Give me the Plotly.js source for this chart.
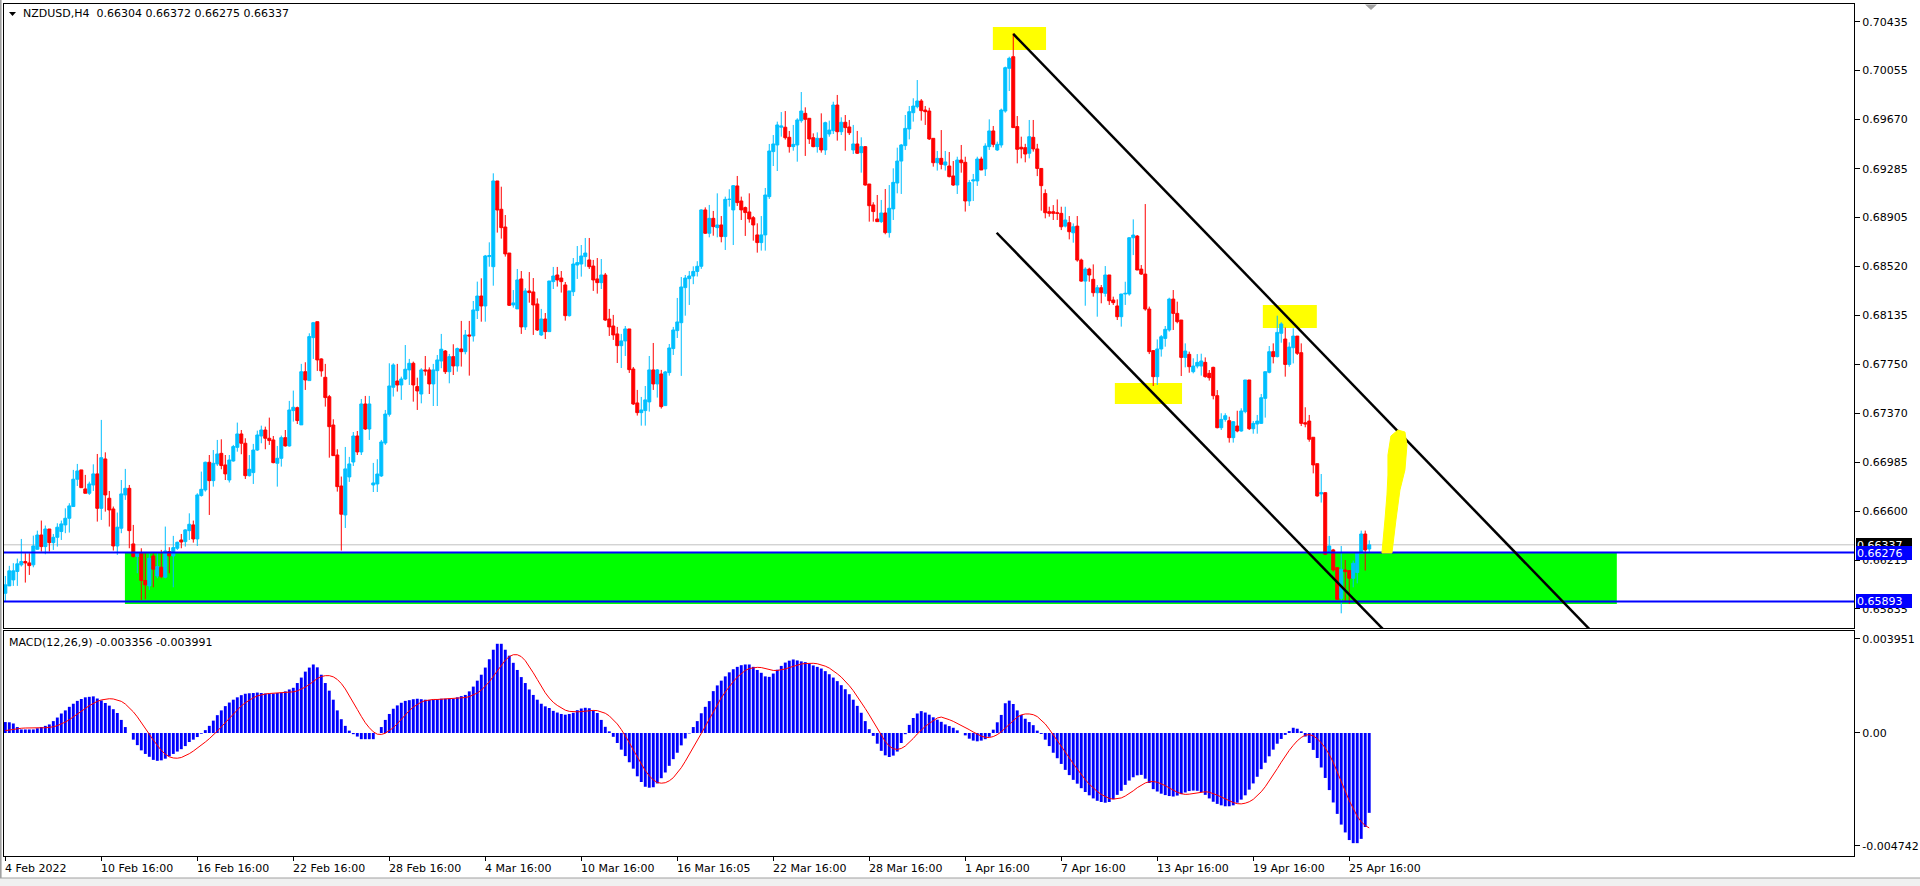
<!DOCTYPE html>
<html><head><meta charset="utf-8">
<script src="https://cdn.plot.ly/plotly-3.0.1.min.js"></script>
<style>html,body{margin:0;padding:0;background:#fff;overflow:hidden}#chart{width:1920px;height:886px}</style>
</head><body><div id="chart"></div>
<script>
const chartTitle = "NZDUSD,H4\u00a0 0.66304 0.66372 0.66275 0.66337";
const macdTitle = "MACD(12,26,9) -0.003356 -0.003991";

const barOpen = [
0.65957,0.66015,0.66062,0.66128,0.66180,0.66206,0.66195,0.66180,0.66302,0.66414,
0.66323,0.66461,0.66354,0.66396,0.66441,0.66493,0.66545,0.66637,0.66851,0.66924,
0.66775,0.66741,0.66806,0.66893,0.66623,0.67010,0.66702,0.66618,0.66328,0.66467,
0.66728,0.66780,0.66344,0.66245,0.66271,0.66057,0.66015,0.66250,0.66093,0.66161,
0.66083,0.66284,0.66250,0.66310,0.66375,0.66362,0.66448,0.66493,0.66383,0.66723,
0.66767,0.66984,0.66840,0.66971,0.67054,0.66963,0.66845,0.66994,0.67101,0.67206,
0.67133,0.66879,0.66903,0.67080,0.67190,0.67237,0.67172,0.67159,0.66976,0.67015,
0.67177,0.67112,0.67389,0.67412,0.67277,0.67694,0.67624,0.67961,0.68086,0.67794,
0.67650,0.67498,0.67276,0.67041,0.66798,0.66571,0.66869,0.66986,0.67190,0.67065,
0.67441,0.67245,0.66806,0.66814,0.66877,0.67135,0.67360,0.67572,0.67621,0.67590,
0.67637,0.67708,0.67760,0.67577,0.67519,0.67708,0.67708,0.67598,0.67702,0.67778,
0.67856,0.67694,0.67812,0.67739,0.67872,0.67851,0.67982,0.67974,0.68173,0.68287,
0.68209,0.68596,0.68517,0.69189,0.68967,0.68828,0.68624,0.68217,0.68186,0.68421,
0.68045,0.68327,0.68319,0.68225,0.67982,0.68107,0.68008,0.68400,0.68452,0.68428,
0.68374,0.68133,0.68321,0.68530,0.68538,0.68596,0.68570,0.68522,0.68421,0.68392,
0.68452,0.68107,0.68052,0.67990,0.67898,0.67935,0.68029,0.67715,0.67449,0.67373,
0.67389,0.67457,0.67708,0.67598,0.67676,0.67428,0.67687,0.67875,0.68016,0.68078,
0.68353,0.68423,0.68444,0.68480,0.68520,0.68962,0.68779,0.68896,0.68823,0.68844,
0.68753,0.69045,0.68962,0.69150,0.69032,0.68980,0.68946,0.68901,0.68766,0.68706,
0.68766,0.69066,0.69419,0.69471,0.69610,0.69610,0.69531,0.69458,0.69471,0.69662,
0.69719,0.69680,0.69528,0.69458,0.69523,0.69432,0.69557,0.69583,0.69784,0.69575,
0.69649,0.69612,0.69432,0.69479,0.69411,0.69458,0.69165,0.69001,0.68891,0.68870,
0.68938,0.68784,0.68970,0.69173,0.69345,0.69466,0.69596,0.69724,0.69771,0.69816,
0.69745,0.69737,0.69523,0.69332,0.69366,0.69314,0.69306,0.69228,0.69157,0.69353,
0.69335,0.69032,0.69189,0.69189,0.69361,0.69283,0.69458,0.69581,0.69432,0.69471,
0.69737,0.70072,0.70163,0.69615,0.69453,0.69450,0.69406,0.69531,0.69440,0.69287,
0.69091,0.68948,0.68948,0.68940,0.68935,0.68835,0.68862,0.68783,0.68835,0.68569,
0.68404,0.68498,0.68418,0.68313,0.68352,0.68308,0.68452,0.68256,0.68209,0.68125,
0.68303,0.68303,0.68744,0.68757,0.68498,0.68459,0.68185,0.67859,0.67655,0.67872,
0.67955,0.68021,0.68263,0.68151,0.68099,0.67806,0.67830,0.67694,0.67738,0.67738,
0.67767,0.67681,0.67728,0.67506,0.67255,0.67320,0.67310,0.67177,0.67268,0.67229,
0.67381,0.67629,0.67247,0.67284,0.67289,0.67485,0.67689,0.67851,0.67812,0.67995,
0.67950,0.67751,0.67882,0.67973,0.67843,0.67294,0.67307,0.67180,0.66973,0.66736,
0.66746,0.66276,0.66297,0.66158,0.65918,0.66140,0.66135,0.66075,0.66120,0.66270,
0.66422,0.66304];

const barHigh = [
0.66093,0.66172,0.66193,0.66229,0.66383,0.66271,0.66271,0.66409,0.66448,0.66527,
0.66488,0.66461,0.66422,0.66506,0.66527,0.66623,0.66663,0.66924,0.66971,0.66924,
0.66885,0.66832,0.66968,0.67049,0.67316,0.67062,0.66759,0.66637,0.66590,0.66845,
0.66932,0.66806,0.66493,0.66271,0.66310,0.66271,0.66271,0.66271,0.66271,0.66297,
0.66480,0.66318,0.66407,0.66362,0.66422,0.66459,0.66584,0.66527,0.66741,0.66911,
0.66989,0.67041,0.67080,0.67159,0.67164,0.67041,0.67041,0.67120,0.67295,0.67237,
0.67172,0.67041,0.67128,0.67232,0.67271,0.67263,0.67334,0.67190,0.67112,0.67193,
0.67237,0.67465,0.67546,0.67420,0.67755,0.67768,0.67995,0.68084,0.68086,0.67799,
0.67755,0.67512,0.67321,0.67086,0.66872,0.67104,0.67026,0.67221,0.67229,0.67480,
0.67504,0.67504,0.66979,0.67008,0.67159,0.67394,0.67760,0.67760,0.67755,0.67655,
0.67903,0.67794,0.67773,0.67647,0.67721,0.67817,0.67728,0.67755,0.67825,0.67990,
0.67864,0.67833,0.67909,0.67883,0.68092,0.68021,0.68092,0.68248,0.68400,0.68426,
0.68609,0.68708,0.69249,0.69189,0.69144,0.68922,0.68624,0.68334,0.68499,0.68483,
0.68348,0.68475,0.68428,0.68269,0.68186,0.68154,0.68405,0.68515,0.68515,0.68483,
0.68397,0.68327,0.68585,0.68679,0.68687,0.68742,0.68742,0.68570,0.68585,0.68577,
0.68468,0.68186,0.68139,0.68045,0.67990,0.68052,0.68029,0.67731,0.67551,0.67496,
0.67582,0.67817,0.67919,0.67715,0.67708,0.67700,0.67911,0.68045,0.68272,0.68436,
0.68452,0.68483,0.68520,0.68560,0.68967,0.68982,0.69001,0.68954,0.69092,0.68914,
0.69066,0.69124,0.69157,0.69228,0.69066,0.68988,0.69092,0.68914,0.68857,0.68914,
0.69134,0.69479,0.69549,0.69654,0.69729,0.69737,0.69581,0.69628,0.69680,0.69886,
0.69766,0.69680,0.69562,0.69570,0.69719,0.69654,0.69662,0.69810,0.69863,0.69688,
0.69706,0.69667,0.69628,0.69581,0.69531,0.69463,0.69165,0.69022,0.69079,0.69040,
0.69126,0.69157,0.69288,0.69450,0.69479,0.69706,0.69776,0.69837,0.69980,0.69831,
0.69776,0.69763,0.69523,0.69424,0.69588,0.69424,0.69416,0.69345,0.69379,0.69471,
0.69379,0.69197,0.69244,0.69379,0.69379,0.69484,0.69672,0.69620,0.69497,0.69756,
0.70085,0.70163,0.70346,0.69698,0.69536,0.69480,0.69667,0.69667,0.69480,0.69287,
0.69123,0.68987,0.69000,0.69044,0.68987,0.68987,0.68914,0.68856,0.68914,0.68580,
0.68512,0.68509,0.68535,0.68373,0.68373,0.68522,0.68452,0.68282,0.68261,0.68303,
0.68399,0.68747,0.68888,0.68765,0.68530,0.69008,0.68204,0.67864,0.67947,0.67981,
0.68052,0.68274,0.68334,0.68243,0.68099,0.67916,0.67851,0.67799,0.67832,0.67835,
0.67806,0.67707,0.67733,0.67550,0.67368,0.67368,0.67341,0.67307,0.67388,0.67407,
0.67629,0.67629,0.67307,0.67355,0.67519,0.67694,0.67895,0.67916,0.68133,0.68081,
0.68040,0.67924,0.68034,0.67973,0.67916,0.67415,0.67355,0.67180,0.66973,0.66892,
0.66746,0.66406,0.66305,0.66158,0.66328,0.66218,0.66135,0.66213,0.66276,0.66448,
0.66448,0.66372];

const barLow = [
0.65892,0.66015,0.66015,0.66015,0.66167,0.66041,0.66101,0.66161,0.66297,0.66284,
0.66263,0.66284,0.66297,0.66323,0.66375,0.66428,0.66433,0.66637,0.66798,0.66785,
0.66741,0.66728,0.66759,0.66519,0.66532,0.66597,0.66480,0.66292,0.66258,0.66428,
0.66689,0.66310,0.66237,0.66114,0.65905,0.65910,0.65984,0.66004,0.66075,0.66075,
0.66075,0.66114,0.66004,0.66297,0.66310,0.66323,0.66375,0.66354,0.66328,0.66715,
0.66754,0.66571,0.66793,0.66955,0.66929,0.66845,0.66825,0.66989,0.67067,0.67047,
0.66853,0.66872,0.66814,0.67073,0.67133,0.67086,0.67120,0.66976,0.66793,0.66950,
0.67107,0.67107,0.67303,0.67284,0.67277,0.67551,0.67624,0.67794,0.67700,0.67655,
0.67420,0.67020,0.67034,0.66754,0.66292,0.66469,0.66830,0.66955,0.67041,0.67041,
0.67237,0.67159,0.66751,0.66751,0.66869,0.67120,0.67342,0.67499,0.67538,0.67473,
0.67629,0.67590,0.67459,0.67394,0.67446,0.67663,0.67519,0.67425,0.67425,0.67721,
0.67676,0.67603,0.67668,0.67694,0.67734,0.67830,0.67663,0.67930,0.68107,0.68086,
0.68086,0.68517,0.68368,0.68784,0.68737,0.68596,0.68209,0.68196,0.68186,0.67990,
0.68021,0.68235,0.67982,0.68013,0.67974,0.67950,0.68008,0.68342,0.68361,0.68314,
0.68094,0.68126,0.68287,0.68421,0.68439,0.68517,0.68499,0.68327,0.68306,0.68342,
0.68092,0.67974,0.67943,0.67762,0.67723,0.67817,0.67684,0.67433,0.67350,0.67271,
0.67271,0.67381,0.67551,0.67491,0.67405,0.67428,0.67663,0.67825,0.67958,0.67661,
0.68133,0.68217,0.68380,0.68440,0.68500,0.68773,0.68747,0.68760,0.68747,0.68708,
0.68648,0.68988,0.68687,0.68993,0.68883,0.68758,0.68862,0.68721,0.68627,0.68643,
0.68643,0.69048,0.69306,0.69267,0.69536,0.69513,0.69411,0.69426,0.69340,0.69646,
0.69385,0.69479,0.69453,0.69411,0.69411,0.69393,0.69536,0.69557,0.69505,0.69549,
0.69426,0.69549,0.69400,0.69400,0.69254,0.69152,0.68870,0.68870,0.68870,0.68860,
0.68771,0.68745,0.68883,0.69092,0.69087,0.69432,0.69515,0.69654,0.69758,0.69662,
0.69628,0.69510,0.69301,0.69270,0.69280,0.69270,0.69217,0.69150,0.69087,0.69254,
0.68949,0.68993,0.69032,0.69150,0.69275,0.69228,0.69432,0.69453,0.69424,0.69450,
0.69724,0.69894,0.69607,0.69327,0.69366,0.69335,0.69366,0.69419,0.69227,0.68956,
0.68896,0.68909,0.68883,0.68883,0.68804,0.68825,0.68731,0.68705,0.68556,0.68399,
0.68211,0.68399,0.68282,0.68125,0.68230,0.68282,0.68217,0.68217,0.68099,0.68047,
0.68217,0.68290,0.68608,0.68490,0.68452,0.68172,0.67832,0.67582,0.67590,0.67812,
0.67890,0.68008,0.68021,0.68073,0.67660,0.67728,0.67686,0.67681,0.67720,0.67663,
0.67647,0.67624,0.67477,0.67250,0.67237,0.67302,0.67138,0.67138,0.67219,0.67224,
0.67368,0.67237,0.67208,0.67208,0.67284,0.67334,0.67681,0.67759,0.67806,0.67921,
0.67655,0.67733,0.67759,0.67825,0.67268,0.67258,0.67145,0.66897,0.66715,0.66668,
0.66257,0.66270,0.66127,0.65905,0.65800,0.65892,0.65874,0.66004,0.66035,0.66265,
0.66135,0.66275];

const barClose = [
0.66023,0.66133,0.66133,0.66188,0.66206,0.66195,0.66174,0.66328,0.66414,0.66323,
0.66461,0.66354,0.66396,0.66475,0.66501,0.66545,0.66642,0.66851,0.66916,0.66785,
0.66741,0.66814,0.66893,0.66623,0.67020,0.66728,0.66610,0.66328,0.66475,0.66736,
0.66780,0.66448,0.66245,0.66271,0.66057,0.66023,0.66232,0.66146,0.66167,0.66088,
0.66289,0.66250,0.66315,0.66357,0.66359,0.66454,0.66498,0.66383,0.66728,0.66772,
0.66984,0.66840,0.66976,0.67049,0.66958,0.66893,0.67002,0.67107,0.67206,0.67133,
0.66879,0.66929,0.67080,0.67198,0.67237,0.67172,0.67154,0.66981,0.67015,0.67177,
0.67112,0.67394,0.67415,0.67311,0.67694,0.67629,0.67969,0.68078,0.67786,0.67700,
0.67491,0.67263,0.67036,0.66793,0.66577,0.66932,0.66971,0.67190,0.67065,0.67441,
0.67245,0.67441,0.66822,0.66892,0.67143,0.67362,0.67582,0.67747,0.67590,0.67637,
0.67713,0.67760,0.67590,0.67543,0.67708,0.67700,0.67598,0.67708,0.67786,0.67870,
0.67694,0.67812,0.67739,0.67875,0.67851,0.67982,0.67974,0.68178,0.68287,0.68209,
0.68601,0.68604,0.69189,0.68961,0.68823,0.68617,0.68214,0.68233,0.68413,0.68045,
0.68327,0.68314,0.68217,0.68021,0.68107,0.68008,0.68405,0.68444,0.68413,0.68400,
0.68133,0.68327,0.68538,0.68549,0.68601,0.68624,0.68517,0.68413,0.68392,0.68452,
0.68099,0.68045,0.67982,0.67898,0.67935,0.68029,0.67710,0.67441,0.67373,0.67394,
0.67473,0.67708,0.67598,0.67708,0.67420,0.67692,0.67880,0.68021,0.68084,0.68358,
0.68428,0.68444,0.68480,0.68520,0.68962,0.68779,0.68896,0.68831,0.68844,0.68753,
0.69045,0.69045,0.69152,0.69019,0.68962,0.68941,0.68891,0.68844,0.68706,0.68766,
0.69079,0.69424,0.69479,0.69628,0.69620,0.69528,0.69458,0.69476,0.69667,0.69737,
0.69672,0.69518,0.69458,0.69523,0.69432,0.69646,0.69588,0.69784,0.69575,0.69649,
0.69607,0.69567,0.69479,0.69406,0.69458,0.69157,0.68995,0.68949,0.68870,0.68938,
0.68784,0.68975,0.69178,0.69345,0.69471,0.69601,0.69732,0.69776,0.69816,0.69740,
0.69732,0.69518,0.69332,0.69366,0.69319,0.69338,0.69223,0.69157,0.69353,0.69332,
0.69032,0.69176,0.69197,0.69361,0.69275,0.69463,0.69581,0.69476,0.69476,0.69745,
0.70077,0.70150,0.69607,0.69437,0.69440,0.69400,0.69536,0.69440,0.69287,0.69152,
0.68940,0.68935,0.68935,0.68935,0.68830,0.68883,0.68791,0.68830,0.68569,0.68404,
0.68498,0.68452,0.68313,0.68352,0.68313,0.68452,0.68250,0.68235,0.68125,0.68303,
0.68308,0.68744,0.68765,0.68491,0.68459,0.68185,0.67851,0.67655,0.67872,0.67968,
0.68026,0.68263,0.68151,0.68086,0.67806,0.67856,0.67733,0.67738,0.67767,0.67778,
0.67655,0.67647,0.67506,0.67255,0.67320,0.67349,0.67177,0.67302,0.67229,0.67386,
0.67629,0.67247,0.67289,0.67307,0.67490,0.67694,0.67851,0.67812,0.68002,0.68068,
0.67751,0.67887,0.67973,0.67838,0.67289,0.67284,0.67164,0.66963,0.66720,0.66746,
0.66263,0.66328,0.66140,0.65910,0.66145,0.66127,0.66075,0.66192,0.66270,0.66422,
0.66297,0.66337];

const macdMain = [
0.00046,0.00045,0.00040,0.00025,0.00015,0.00015,0.00015,0.00015,0.00020,0.00025,
0.00030,0.00036,0.00050,0.00065,0.00082,0.00095,0.00110,0.00123,0.00135,0.00143,
0.00150,0.00152,0.00154,0.00145,0.00137,0.00126,0.00115,0.00100,0.00084,0.00055,
0.00025,0.00000,-0.00028,-0.00051,-0.00073,-0.00088,-0.00100,-0.00113,-0.00117,-0.00115,
-0.00108,-0.00098,-0.00088,-0.00078,-0.00068,-0.00055,-0.00038,-0.00028,-0.00017,-0.00003,
0.00012,0.00030,0.00052,0.00075,0.00095,0.00113,0.00128,0.00140,0.00150,0.00159,
0.00165,0.00167,0.00168,0.00170,0.00168,0.00166,0.00165,0.00166,0.00168,0.00170,
0.00175,0.00183,0.00190,0.00210,0.00233,0.00258,0.00275,0.00288,0.00276,0.00245,
0.00210,0.00178,0.00140,0.00095,0.00058,0.00030,0.00010,-0.00005,-0.00015,-0.00026,
-0.00026,-0.00026,-0.00026,0.00000,0.00025,0.00055,0.00080,0.00102,0.00116,0.00127,
0.00135,0.00138,0.00142,0.00144,0.00142,0.00140,0.00139,0.00140,0.00142,0.00144,
0.00144,0.00144,0.00144,0.00150,0.00155,0.00160,0.00175,0.00195,0.00220,0.00245,
0.00275,0.00310,0.00350,0.00375,0.00375,0.00350,0.00325,0.00295,0.00265,0.00235,
0.00210,0.00183,0.00160,0.00140,0.00123,0.00112,0.00105,0.00093,0.00086,0.00080,
0.00077,0.00080,0.00085,0.00096,0.00103,0.00106,0.00104,0.00095,0.00084,0.00055,
0.00026,0.00007,-0.00016,-0.00042,-0.00070,-0.00097,-0.00123,-0.00150,-0.00182,-0.00206,
-0.00226,-0.00230,-0.00228,-0.00212,-0.00190,-0.00166,-0.00138,-0.00110,-0.00083,-0.00052,
-0.00023,-0.00002,0.00025,0.00050,0.00083,0.00110,0.00134,0.00176,0.00200,0.00220,
0.00238,0.00255,0.00268,0.00278,0.00285,0.00288,0.00288,0.00278,0.00265,0.00253,
0.00238,0.00236,0.00250,0.00266,0.00282,0.00296,0.00304,0.00309,0.00305,0.00301,
0.00298,0.00292,0.00284,0.00278,0.00271,0.00260,0.00247,0.00233,0.00218,0.00201,
0.00184,0.00163,0.00140,0.00114,0.00085,0.00050,0.00016,-0.00012,-0.00045,-0.00075,
-0.00094,-0.00101,-0.00095,-0.00078,-0.00042,-0.00005,0.00034,0.00063,0.00082,0.00092,
0.00086,0.00077,0.00066,0.00056,0.00047,0.00036,0.00029,0.00022,0.00011,0.00000,
-0.00010,-0.00024,-0.00032,-0.00035,-0.00032,-0.00026,-0.00016,0.00014,0.00045,0.00076,
0.00125,0.00136,0.00122,0.00095,0.00076,0.00060,0.00046,0.00033,0.00010,-0.00004,
-0.00028,-0.00055,-0.00083,-0.00106,-0.00130,-0.00155,-0.00177,-0.00197,-0.00213,-0.00232,
-0.00248,-0.00262,-0.00275,-0.00285,-0.00290,-0.00293,-0.00290,-0.00278,-0.00260,-0.00243,
-0.00218,-0.00200,-0.00186,-0.00178,-0.00176,-0.00192,-0.00210,-0.00236,-0.00246,-0.00255,
-0.00261,-0.00265,-0.00267,-0.00263,-0.00257,-0.00250,-0.00244,-0.00242,-0.00243,-0.00248,
-0.00260,-0.00275,-0.00289,-0.00298,-0.00304,-0.00308,-0.00308,-0.00304,-0.00293,-0.00280,
-0.00262,-0.00238,-0.00212,-0.00184,-0.00152,-0.00125,-0.00098,-0.00070,-0.00045,-0.00025,
-0.00008,0.00008,0.00022,0.00018,0.00007,-0.00015,-0.00042,-0.00071,-0.00105,-0.00145,
-0.00189,-0.00240,-0.00292,-0.00340,-0.00385,-0.00418,-0.00450,-0.00463,-0.00463,-0.00445,
-0.00395,-0.003356];

const macdSignal = [
0.00010,0.00013,0.00016,0.00018,0.00020,0.00021,0.00022,0.00023,0.00022,0.00022,
0.00022,0.00023,0.00026,0.00031,0.00038,0.00046,0.00056,0.00067,0.00079,0.00091,
0.00103,0.00115,0.00125,0.00133,0.00139,0.00143,0.00144,0.00143,0.00139,0.00133,
0.00122,0.00107,0.00089,0.00068,0.00045,0.00021,-0.00005,-0.00030,-0.00053,-0.00073,
-0.00089,-0.00100,-0.00105,-0.00106,-0.00103,-0.00096,-0.00087,-0.00076,-0.00064,-0.00051,
-0.00038,-0.00024,-0.00009,0.00008,0.00026,0.00044,0.00063,0.00081,0.00099,0.00114,
0.00127,0.00138,0.00148,0.00156,0.00161,0.00164,0.00166,0.00167,0.00167,0.00167,
0.00168,0.00170,0.00173,0.00177,0.00184,0.00193,0.00204,0.00217,0.00229,0.00237,
0.00241,0.00241,0.00236,0.00225,0.00208,0.00185,0.00158,0.00129,0.00099,0.00070,
0.00043,0.00022,0.00005,-0.00005,-0.00006,-0.00001,0.00009,0.00022,0.00039,0.00058,
0.00077,0.00094,0.00109,0.00121,0.00130,0.00136,0.00140,0.00141,0.00141,0.00142,
0.00142,0.00142,0.00143,0.00144,0.00146,0.00149,0.00153,0.00159,0.00168,0.00180,
0.00196,0.00215,0.00238,0.00262,0.00286,0.00306,0.00321,0.00329,0.00329,0.00321,
0.00304,0.00280,0.00253,0.00225,0.00196,0.00169,0.00147,0.00129,0.00116,0.00105,
0.00096,0.00091,0.00089,0.00089,0.00090,0.00092,0.00094,0.00095,0.00094,0.00090,
0.00083,0.00072,0.00057,0.00038,0.00015,-0.00011,-0.00040,-0.00071,-0.00101,-0.00131,
-0.00158,-0.00180,-0.00197,-0.00208,-0.00211,-0.00209,-0.00201,-0.00188,-0.00169,-0.00146,
-0.00119,-0.00091,-0.00062,-0.00033,-0.00002,0.00028,0.00059,0.00090,0.00120,0.00148,
0.00172,0.00195,0.00216,0.00235,0.00250,0.00263,0.00271,0.00274,0.00276,0.00275,
0.00271,0.00266,0.00263,0.00263,0.00265,0.00269,0.00275,0.00281,0.00286,0.00290,
0.00292,0.00293,0.00293,0.00291,0.00287,0.00281,0.00273,0.00262,0.00249,0.00235,
0.00218,0.00199,0.00178,0.00154,0.00129,0.00103,0.00076,0.00047,0.00018,-0.00012,
-0.00036,-0.00055,-0.00066,-0.00069,-0.00065,-0.00055,-0.00040,-0.00023,-0.00004,0.00013,
0.00028,0.00040,0.00053,0.00063,0.00067,0.00063,0.00056,0.00049,0.00041,0.00033,
0.00023,0.00014,0.00004,-0.00005,-0.00013,-0.00018,-0.00019,-0.00015,-0.00007,0.00005,
0.00021,0.00039,0.00055,0.00067,0.00076,0.00080,0.00080,0.00077,0.00069,0.00055,
0.00038,0.00016,-0.00007,-0.00030,-0.00054,-0.00079,-0.00104,-0.00129,-0.00153,-0.00175,
-0.00196,-0.00215,-0.00232,-0.00246,-0.00258,-0.00268,-0.00275,-0.00278,-0.00277,-0.00273,
-0.00265,-0.00255,-0.00243,-0.00230,-0.00219,-0.00210,-0.00205,-0.00204,-0.00207,-0.00213,
-0.00221,-0.00231,-0.00241,-0.00249,-0.00255,-0.00258,-0.00257,-0.00254,-0.00251,-0.00248,
-0.00247,-0.00249,-0.00254,-0.00261,-0.00269,-0.00277,-0.00285,-0.00292,-0.00297,-0.00298,
-0.00295,-0.00289,-0.00279,-0.00265,-0.00247,-0.00226,-0.00202,-0.00177,-0.00150,-0.00123,
-0.00097,-0.00073,-0.00052,-0.00033,-0.00019,-0.00009,-0.00007,-0.00012,-0.00024,-0.00041,
-0.00063,-0.00090,-0.00123,-0.00161,-0.00202,-0.00244,-0.00284,-0.00320,-0.00350,-0.00373,
-0.00389,-0.003991];

const dateLabelBars = [0,24,48,72,96,120,144,168,192,216,240,264,288,312,336];
const dateLabels = ["4 Feb 2022","10 Feb 16:00","16 Feb 16:00","22 Feb 16:00","28 Feb 16:00","4 Mar 16:00","10 Mar 16:00","16 Mar 16:05","22 Mar 16:00","28 Mar 16:00","1 Apr 16:00","7 Apr 16:00","13 Apr 16:00","19 Apr 16:00","25 Apr 16:00"];
const priceTicks = [0.70435,0.70055,0.69670,0.69285,0.68905,0.68520,0.68135,0.67750,0.67370,0.66985,0.66600,0.66215,0.65835];
const macdTicks = [0.003951,0,-0.004742];
const macdTickText = ["0.003951","0.00","-0.004742"];

const bidPrice = 0.66337;
const levelUpper = 0.66276;
const levelLower = 0.65893;
// drawn objects: [barIndex, price]
const zoneStart = 29.9, zoneEnd = 402.9, zoneBottom = 0.65873;
const upperTrend = [[252.0,0.70341],[413.2,0.65121]];
const lowerTrend = [[247.85,0.68783],[361.7,0.65121]];
const yellowBoxes = [[246.9,260.2,0.70215,0.70395],[277.4,294.2,0.67441,0.67605],[314.4,327.9,0.68037,0.68217]];
const yellowArrow = [[344.18,0.66273],[346.68,0.66273],[347.68,0.66532],[348.68,0.66767],[349.93,0.66924],[350.43,0.67119],[349.93,0.67221],[348.18,0.67237],[346.43,0.67190],[345.68,0.67041],[345.68,0.66884],[345.43,0.66728],[344.93,0.66532]];

const barIndex = barOpen.map((_, i) => i);
const XR = [-0.33, 462.2];
const FONT = "DejaVu Sans, Verdana, sans-serif";

const traces = [
  {type:'candlestick', x:barIndex, open:barOpen, high:barHigh, low:barLow, close:barClose,
   xaxis:'x', yaxis:'y', whiskerwidth:0, hoverinfo:'skip',
   increasing:{line:{color:'#00BFFF', width:1}, fillcolor:'#00BFFF'},
   decreasing:{line:{color:'#FF0000', width:1}, fillcolor:'#FF0000'}},
  {type:'bar', x:barIndex, y:macdMain, xaxis:'x2', yaxis:'y2', width:0.72,
   marker:{color:'#0000FF', line:{width:0}}, hoverinfo:'skip'},
  {type:'scatter', mode:'lines', x:barIndex, y:macdSignal, xaxis:'x2', yaxis:'y2',
   line:{color:'#FF0000', width:1}, hoverinfo:'skip'}
];

const shapes = [];
shapes.push({type:'rect', xref:'x', yref:'y', x0:zoneStart, x1:zoneEnd, y0:zoneBottom, y1:levelUpper,
  fillcolor:'#00FF00', line:{width:0}, layer:'below'});
yellowBoxes.forEach(b => shapes.push({type:'rect', xref:'x', yref:'y', x0:b[0], x1:b[1], y0:b[2], y1:b[3],
  fillcolor:'#FFFF00', line:{width:0}, layer:'below'}));
shapes.push({type:'line', xref:'paper', yref:'y', x0:0, x1:1, y0:bidPrice, y1:bidPrice, line:{color:'#C0C0C0', width:1}, layer:'below'});
[levelUpper, levelLower].forEach(p => shapes.push({type:'line', xref:'paper', yref:'y', x0:0, x1:1, y0:p, y1:p,
  line:{color:'#0000FF', width:2}, layer:'above'}));
[upperTrend, lowerTrend].forEach(t => shapes.push({type:'line', xref:'x', yref:'y', x0:t[0][0], y0:t[0][1], x1:t[1][0], y1:t[1][1],
  line:{color:'#000000', width:2.5}, layer:'above'}));
shapes.push({type:'path', xref:'x', yref:'y', path:'M' + yellowArrow.map(p => p[0] + ',' + p[1]).join(' L') + ' Z',
  fillcolor:'#FFFF00', line:{color:'#FFFF00', width:1}, layer:'above'});
const px = v => (v - 4) / 1850, py = v => (856 - v) / 852;
shapes.push({type:'path', xref:'paper', yref:'paper', path:`M${px(9)},${py(12)} L${px(16)},${py(12)} L${px(12.5)},${py(16)} Z`,
  fillcolor:'#000', line:{width:0}});
shapes.push({type:'path', xref:'paper', yref:'paper', path:`M${px(1365)},${py(4.5)} L${px(1377)},${py(4.5)} L${px(1371)},${py(10)} Z`,
  fillcolor:'#A0A0A0', line:{width:0}});
shapes.push({type:'rect', xref:'paper', yref:'paper', x0:px(0), x1:px(1.6), y0:py(878), y1:py(0), fillcolor:'#A0A0A0', line:{width:0}});
shapes.push({type:'rect', xref:'paper', yref:'paper', x0:px(0), x1:px(1920), y0:py(886), y1:py(878), fillcolor:'#F0F0F0', line:{width:0}});
shapes.push({type:'line', xref:'paper', yref:'paper', x0:px(0), x1:px(1920), y0:py(878), y1:py(878), line:{color:'#A0A0A0', width:1}});

const annotations = [];
annotations.push({xref:'paper', yref:'paper', x:px(21), y:py(14), xanchor:'left', yanchor:'middle', showarrow:false,
  text:chartTitle, font:{family:FONT, size:11, color:'#000'}});
annotations.push({xref:'paper', yref:'paper', x:px(7), y:py(642), xanchor:'left', yanchor:'middle', showarrow:false,
  text:macdTitle, font:{family:FONT, size:11, color:'#000'}});
dateLabelBars.forEach((b, k) => annotations.push({xref:'x2', yref:'paper', x:b, y:py(868), xanchor:'left', yanchor:'middle',
  xshift:-2, showarrow:false, text:dateLabels[k], font:{family:FONT, size:11, color:'#000'}}));
[[bidPrice,'#000000'],[levelUpper,'#0000FF'],[levelLower,'#0000FF']].forEach(([p, c]) => annotations.push({
  xref:'paper', yref:'y', x:1.0011, y:p, xanchor:'left', yanchor:'middle', showarrow:false,
  text:p.toFixed(5), bgcolor:c, borderpad:1, borderwidth:0, width:54, height:12, align:'left',
  font:{family:FONT, size:11, color:'#FFFFFF'}}));

const axisCommon = {showgrid:false, zeroline:false, showline:true, linecolor:'#000', linewidth:1, mirror:true, fixedrange:true};
const layout = {
  width:1920, height:886,
  margin:{l:4, r:66, t:4, b:30, pad:0},
  paper_bgcolor:'#FFFFFF', plot_bgcolor:'#FFFFFF',
  font:{family:FONT, size:11, color:'#000'},
  showlegend:false, hovermode:false,
  boxgap:0.25, boxgroupgap:0,
  xaxis:Object.assign({}, axisCommon, {domain:[0,1], range:XR, anchor:'y', showticklabels:false, ticks:'', rangeslider:{visible:false}}),
  yaxis:Object.assign({}, axisCommon, {domain:[0.26761,1], range:[0.65685,0.70576], anchor:'x', side:'right',
    tickmode:'array', tickvals:priceTicks, ticktext:priceTicks.map(v => v.toFixed(5)), ticks:'outside', ticklen:5, tickcolor:'#000',
    tickfont:{family:FONT, size:11, color:'#000'}}),
  xaxis2:Object.assign({}, axisCommon, {domain:[0,1], range:XR, anchor:'y2', showticklabels:false,
    tickmode:'array', tickvals:dateLabelBars, ticks:'outside', ticklen:4, tickcolor:'#000'}),
  yaxis2:Object.assign({}, axisCommon, {domain:[0,0.26408], range:[-0.00517,0.004287], anchor:'x2', side:'right',
    tickmode:'array', tickvals:macdTicks, ticktext:macdTickText, ticks:'outside', ticklen:5, tickcolor:'#000',
    tickfont:{family:FONT, size:11, color:'#000'}}),
  shapes:shapes,
  annotations:annotations
};

Plotly.newPlot('chart', traces, layout, {displayModeBar:false, staticPlot:true});
</script>
</body></html>
